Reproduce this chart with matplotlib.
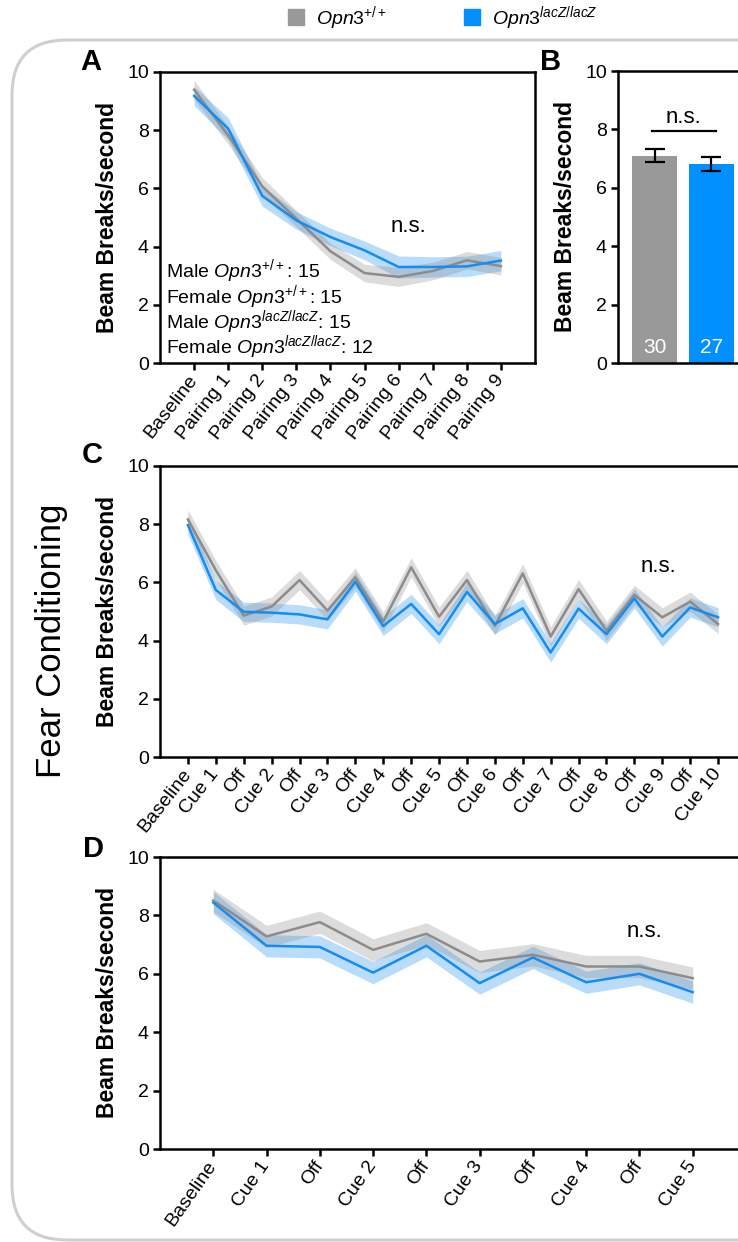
import numpy as np
import matplotlib.pyplot as plt
from matplotlib.patches import Patch, FancyBboxPatch
from matplotlib.transforms import IdentityTransform

plt.rcParams['font.family'] = 'Liberation Sans'
plt.rcParams['mathtext.fontset'] = 'custom'
plt.rcParams['mathtext.rm'] = 'Liberation Sans'
plt.rcParams['mathtext.it'] = 'Liberation Sans:italic'
plt.rcParams['mathtext.bf'] = 'Liberation Sans:bold'

# --- data ---
pair_labels = ['Baseline'] + [f'Pairing {i}' for i in range(1, 10)]
pair_wt = [9.39, 7.82, 6.07, 4.96, 3.84, 3.09, 2.96, 3.16, 3.53, 3.33]
pair_wt_sem = [0.33, 0.30, 0.30, 0.28, 0.28, 0.30, 0.33, 0.30, 0.30, 0.30]
pair_ko = [9.18, 8.05, 5.74, 4.90, 4.33, 3.87, 3.30, 3.30, 3.32, 3.52]
pair_ko_sem = [0.33, 0.38, 0.35, 0.30, 0.30, 0.32, 0.38, 0.35, 0.35, 0.35]

bar_groups = ['wt', 'ko']
bar_means = [7.10, 6.82]
bar_sems = [0.22, 0.23]
bar_n = ['30', '27']

cue_labels = ['Baseline', 'Cue 1']
for i in range(2, 11):
    cue_labels += ['Off', f'Cue {i}']
cue_wt = [8.16, 6.42, 4.86, 5.17, 6.08, 5.03, 6.17, 4.65, 6.52, 4.82,
          6.08, 4.51, 6.31, 4.14, 5.77, 4.34, 5.57, 4.80, 5.34, 4.57]
cue_wt_sem = [0.33] * 20
cue_ko = [7.97, 5.74, 4.99, 4.96, 4.90, 4.73, 6.02, 4.50, 5.26, 4.22,
          5.67, 4.57, 5.11, 3.59, 5.10, 4.22, 5.45, 4.14, 5.14, 4.80]
cue_ko_sem = [0.33] * 20

ctx_labels = ['Baseline', 'Cue 1']
for i in range(2, 6):
    ctx_labels += ['Off', f'Cue {i}']
ctx_wt = [8.51, 7.28, 7.77, 6.82, 7.37, 6.42, 6.65, 6.25, 6.25, 5.85]
ctx_wt_sem = [0.38] * 10
ctx_ko = [8.44, 6.96, 6.92, 6.04, 6.96, 5.68, 6.56, 5.71, 6.00, 5.37]
ctx_ko_sem = [0.38] * 10

GRAY_LINE, GRAY_BAR = '#8c8c8c', '#999999'
BLUE_LINE, BLUE_BAR = '#168cf0', '#0090ff'
WT_LABEL = r'$\mathit{Opn3}^{\mathit{+/+}}$'
KO_LABEL = r'$\mathit{Opn3}^{\mathit{lacZ/lacZ}}$'

W, H = 738, 1242
fig = plt.figure(figsize=(W / 100, H / 100), dpi=100)


def box(l, t, w, h):
    # pixel box measured from the top-left corner
    return [l / W, 1 - (t + h) / H, w / W, h / H]


def style(ax, xlim):
    ax.set_ylim(0, 10)
    ax.set_yticks(range(0, 11, 2))
    ax.set_xlim(*xlim)
    for s in ax.spines.values():
        s.set_linewidth(1.8)
    ax.tick_params(width=1.8, length=5, labelsize=14, pad=3)
    ax.tick_params(axis='x', pad=5)
    ax.set_ylabel('Beam Breaks/second', fontsize=16.5, fontweight='bold', labelpad=6)


def traces(ax, labels, wt, wt_sem, ko, ko_sem, rot, size):
    x = np.arange(len(labels))
    wt, wt_sem, ko, ko_sem = map(np.array, (wt, wt_sem, ko, ko_sem))
    ax.fill_between(x, ko - ko_sem, ko + ko_sem, color=BLUE_LINE, alpha=0.3, lw=0)
    ax.fill_between(x, wt - wt_sem, wt + wt_sem, color=GRAY_LINE, alpha=0.3, lw=0)
    ax.plot(x, wt, color=GRAY_LINE, lw=1.8)
    ax.plot(x, ko, color=BLUE_LINE, lw=1.8)
    ax.set_xticks(x)
    ax.set_xticklabels(labels, rotation=rot, ha='right', va='center',
                       rotation_mode='anchor', fontsize=size)


# --- A ---
axA = fig.add_axes(box(160, 72, 375, 291))
traces(axA, pair_labels, pair_wt, pair_wt_sem, pair_ko, pair_ko_sem, 52, 12)
style(axA, (-1, 10))
axA.text(6.3, 4.7, 'n.s.', fontsize=16, ha='center', va='center')
counts = [('Male ', WT_LABEL, '15'), ('Female ', WT_LABEL, '15'),
          ('Male ', KO_LABEL, '15'), ('Female ', KO_LABEL, '12')]
for k, (sex, geno, n) in enumerate(counts):
    axA.text(-0.82, 2.95 - 0.875 * k, f'{sex}{geno}: {n}', fontsize=14, va='baseline')

# --- B ---
axB = fig.add_axes(box(618, 71, 130, 292))
xb = np.arange(len(bar_groups))
axB.bar(xb, bar_means, width=0.8, color=[GRAY_BAR, BLUE_BAR])
axB.errorbar(xb, bar_means, yerr=bar_sems, fmt='none', ecolor='black',
             elinewidth=1.6, capsize=7, capthick=1.6)
for xi, n in zip(xb, bar_n):
    axB.text(xi, 0.2, n, color='white', fontsize=15, ha='center', va='bottom')
axB.plot([-0.04, 1.08], [7.95, 7.95], color='black', lw=1.6)
axB.text(0.5, 8.05, 'n.s.', fontsize=16, ha='center', va='bottom')
axB.set_xticks([])
style(axB, (-0.65, 1.65))

# --- C ---
axC = fig.add_axes(box(160, 466, 586, 291))
traces(axC, cue_labels, cue_wt, cue_wt_sem, cue_ko, cue_ko_sem, 52, 13)
style(axC, (-1, 20))
axC.text(16.85, 6.56, 'n.s.', fontsize=16, ha='center', va='center')

# --- D ---
axD = fig.add_axes(box(160, 857, 586, 292))
traces(axD, ctx_labels, ctx_wt, ctx_wt_sem, ctx_ko, ctx_ko_sem, 55, 15)
style(axD, (-1, 10))
axD.text(8.1, 7.44, 'n.s.', fontsize=16, ha='center', va='center')

# panel letters and side title
for letter, xp, yp in [('A', 80, 70), ('B', 540, 70), ('C', 82, 463), ('D', 83, 857)]:
    fig.text(xp / W, 1 - yp / H, letter, fontsize=21, fontweight='bold', va='baseline')
fig.text(51 / W, 1 - 641 / H, 'Fear Conditioning', rotation=90, fontsize=25,
         ha='center', va='center')

# rounded frame
frame = FancyBboxPatch((12, 2), 800, 1200, boxstyle='round,pad=0,rounding_size=55',
                       transform=IdentityTransform(), fill=False, ec='#cfcfcf', lw=2.2,
                       zorder=0)
fig.add_artist(frame)

fig.legend(handles=[Patch(color=GRAY_BAR, label=WT_LABEL), Patch(color=BLUE_BAR, label=KO_LABEL)],
           loc='center', bbox_to_anchor=(0.6, 0.9855), ncol=2, frameon=False, fontsize=14,
           handlelength=0.8, handleheight=0.9, handletextpad=0.6, columnspacing=4)

fig.savefig('out.png', dpi=100)
